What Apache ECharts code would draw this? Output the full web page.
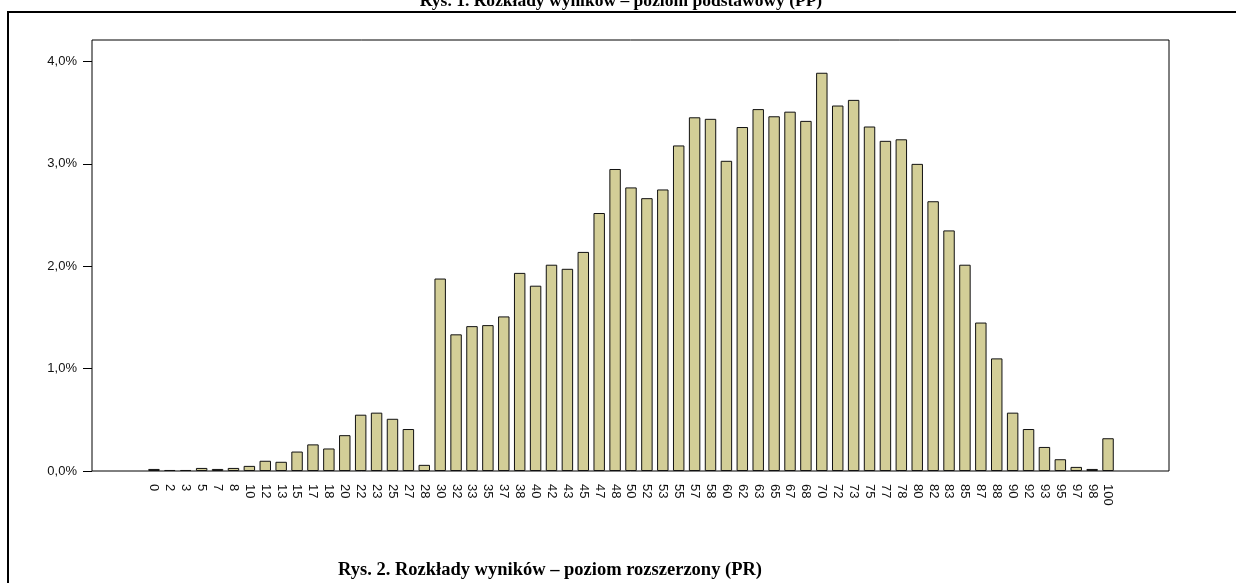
<!DOCTYPE html>
<html>
<head>
<meta charset="utf-8">
<script src="https://cdn.jsdelivr.net/npm/echarts@6/dist/echarts.min.js"></script>
<style>
  html, body { margin: 0; padding: 0; background: #fff; }
  #chart { width: 1236px; height: 583px; }
</style>
</head>
<body>
<div id="chart"></div>
<script>
// wyniki (punkty procentowe)
const categories = ["0","2","3","5","7","8","10","12","13","15","17","18","20","22","23","25","27","28",
  "30","32","33","35","37","38","40","42","43","45","47","48","50","52","53","55","57","58",
  "60","62","63","65","67","68","70","72","73","75","77","78","80","82","83","85","87","88",
  "90","92","93","95","97","98","100"];

// odsetek uczniów (%)
const percents = [0.02,0.01,0.01,0.03,0.02,0.03,0.05,0.10,0.09,0.19,0.26,0.22,0.35,0.55,0.57,0.51,0.41,0.06,
  1.88,1.335,1.415,1.425,1.51,1.935,1.81,2.015,1.975,2.14,2.52,2.95,2.77,2.665,2.75,3.18,3.455,3.44,
  3.03,3.36,3.535,3.465,3.51,3.42,3.89,3.57,3.625,3.365,3.225,3.24,3.0,2.635,2.35,2.015,1.45,1.10,
  0.57,0.41,0.235,0.115,0.04,0.02,0.32];

const yTicks = [0, 1, 2, 3, 4];
const yMax = 4.21;

const titleTop = "Rys. 1. Rozkłady wyników – poziom podstawowy (PP)";
const titleBottom = "Rys. 2. Rozkłady wyników – poziom rozszerzony (PR)";

const chart = echarts.init(document.getElementById("chart"));

const option = {
  animation: false,
  backgroundColor: "#fff",
  grid: [
    // ramka wykresu + oś Y
    { left: 92, top: 40, width: 1077, height: 431, show: true, borderColor: "#000", borderWidth: 1, backgroundColor: "transparent" },
    // słupki (kategorie z marginesem po bokach)
    { left: 146, top: 40, width: 970, height: 431 }
  ],
  xAxis: [
    { type: "value", gridIndex: 0, show: false, min: 0, max: 1 },
    {
      type: "category",
      gridIndex: 1,
      data: categories,
      boundaryGap: true,
      axisLine: { show: false },
      axisTick: { alignWithLabel: true, length: 8, lineStyle: { color: "#000", width: 1 } },
      axisLabel: {
        interval: 0,
        rotate: -90,
        margin: 13,
        color: "#111",
        fontFamily: "Liberation Sans",
        fontSize: 13
      }
    }
  ],
  yAxis: [
    {
      type: "value",
      gridIndex: 0,
      min: 0,
      max: yMax,
      axisLine: { show: false },
      splitLine: { show: false },
      axisTick: { show: true, length: 9, customValues: yTicks, lineStyle: { color: "#000", width: 1 } },
      axisLabel: {
        customValues: yTicks,
        margin: 15,
        color: "#111",
        fontFamily: "Liberation Sans",
        fontSize: 13,
        formatter: (v) => v.toFixed(1).replace(".", ",") + "%"
      }
    },
    { type: "value", gridIndex: 1, min: 0, max: yMax, show: false }
  ],
  series: [
    {
      type: "bar",
      xAxisIndex: 1,
      yAxisIndex: 1,
      data: percents,
      barWidth: "72%",
      itemStyle: { color: "#D3CE97", borderColor: "#111", borderWidth: 1 }
    }
  ],
  graphic: [
    { type: "line", shape: { x1: 7, y1: 12, x2: 1236, y2: 12 }, style: { stroke: "#000", lineWidth: 2 } },
    { type: "line", shape: { x1: 8, y1: 11, x2: 8, y2: 583 }, style: { stroke: "#000", lineWidth: 2 } },
    {
      type: "text", x: 621, y: 1.1,
      style: { text: titleTop, font: 'bold 17.5px "Liberation Serif"', fill: "#000", align: "center", verticalAlign: "middle" }
    },
    {
      type: "text", x: 550, y: 569.8,
      style: { text: titleBottom, font: 'bold 18.5px "Liberation Serif"', fill: "#000", align: "center", verticalAlign: "middle" }
    }
  ]
};

chart.setOption(option);
</script>
</body>
</html>
